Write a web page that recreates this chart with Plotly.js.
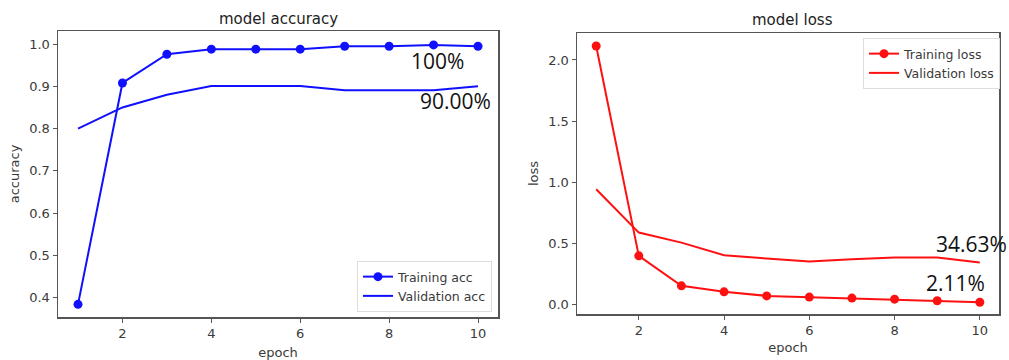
<!DOCTYPE html>
<html>
<head>
<meta charset="utf-8">
<script src="https://cdn.plot.ly/plotly-3.0.1.min.js"></script>
<style>html,body{margin:0;padding:0;background:#fff;}#chart{width:1009px;height:360px;}</style>
</head>
<body>
<div id="chart"></div>
<script>
const epochs = [1, 2, 3, 4, 5, 6, 7, 8, 9, 10];
const trainAcc = [0.384, 0.908, 0.976, 0.988, 0.988, 0.988, 0.995, 0.995, 0.998, 0.995];
const valAcc = [0.800, 0.850, 0.880, 0.901, 0.901, 0.901, 0.891, 0.891, 0.891, 0.900];
const trainLoss = [2.114, 0.400, 0.155, 0.106, 0.073, 0.063, 0.055, 0.046, 0.033, 0.0211];
const valLoss = [0.944, 0.590, 0.508, 0.405, 0.378, 0.353, 0.372, 0.386, 0.386, 0.3463];
const accLabels = ["100%", "90.00%"];
const lossLabels = ["34.63%", "2.11%"];

const W = 1009, H = 360;
const px = x => x / W;
const py = y => 1 - y / H;

const blue = "#1010ff", red = "#ff1010";
const txtColor = "#3a3a3a";
const tickFont = {family: "DejaVu Sans", size: 13, color: txtColor};
const labFont = {family: "DejaVu Sans", size: 13, color: txtColor};

const traces = [
  {x: epochs, y: trainAcc, name: "Training acc", mode: "lines+markers",
   line: {color: blue, width: 2}, marker: {color: blue, size: 9},
   xaxis: "x", yaxis: "y", legend: "legend"},
  {x: epochs, y: valAcc, name: "Validation acc", mode: "lines",
   line: {color: blue, width: 2}, xaxis: "x", yaxis: "y", legend: "legend"},
  {x: epochs, y: trainLoss, name: "Training loss", mode: "lines+markers",
   line: {color: red, width: 2}, marker: {color: red, size: 9},
   xaxis: "x2", yaxis: "y2", legend: "legend2"},
  {x: epochs, y: valLoss, name: "Validation loss", mode: "lines",
   line: {color: red, width: 2}, xaxis: "x2", yaxis: "y2", legend: "legend2"}
];

const axisCommon = {
  showgrid: false, zeroline: false, showline: true, mirror: true,
  linecolor: "#555", linewidth: 1.5, ticks: "outside", ticklen: 4,
  tickcolor: "#555", tickfont: tickFont
};

const annFont = {family: "Open Sans", size: 21, color: "#111"};
const ann = (text, x, y, font) => ({text: text, xref: "paper", yref: "paper", x: px(x), y: py(y),
  xanchor: "center", yanchor: "middle", showarrow: false, font: font});

const layout = {
  width: W, height: H,
  margin: {l: 0, r: 0, t: 0, b: 0},
  paper_bgcolor: "#fff", plot_bgcolor: "#fff",
  showlegend: true,
  xaxis: Object.assign({}, axisCommon, {
    domain: [px(58), px(498)], range: [0.55, 10.45], tickvals: [2, 4, 6, 8, 10],
    anchor: "y", title: {text: "epoch", font: labFont, standoff: 8}
  }),
  yaxis: Object.assign({}, axisCommon, {
    domain: [py(317), py(31)], range: [0.354, 1.031], tickvals: [0.4, 0.5, 0.6, 0.7, 0.8, 0.9, 1.0],
    ticktext: ["0.4", "0.5", "0.6", "0.7", "0.8", "0.9", "1.0"],
    anchor: "x", title: {text: "accuracy", font: labFont, standoff: 6}
  }),
  xaxis2: Object.assign({}, axisCommon, {
    domain: [px(577), px(999)], range: [0.55, 10.45], tickvals: [2, 4, 6, 8, 10],
    anchor: "y2", title: {text: "epoch", font: labFont, standoff: 6}
  }),
  yaxis2: Object.assign({}, axisCommon, {
    domain: [py(314), py(33)], range: [-0.075, 2.22], tickvals: [0, 0.5, 1.0, 1.5, 2.0],
    ticktext: ["0.0", "0.5", "1.0", "1.5", "2.0"],
    anchor: "x2", title: {text: "loss", font: labFont, standoff: 6}
  }),
  legend: {
    x: px(492), y: py(312), xanchor: "right", yanchor: "bottom",
    bgcolor: "#fff", bordercolor: "#ddd", borderwidth: 1, itemwidth: 30,
    font: {family: "DejaVu Sans", size: 12.5, color: txtColor}, tracegroupgap: 0
  },
  legend2: {
    x: px(1000), y: py(38), xanchor: "right", yanchor: "top",
    bgcolor: "#fff", bordercolor: "#ddd", borderwidth: 1, itemwidth: 30,
    font: {family: "DejaVu Sans", size: 12.5, color: txtColor}, tracegroupgap: 0
  },
  annotations: [
    ann("model accuracy", 278, 19, {family: "DejaVu Sans", size: 15, color: "#222"}),
    ann("model loss", 792, 20, {family: "DejaVu Sans", size: 15, color: "#222"}),
    ann(accLabels[0], 437, 61, annFont),
    ann(accLabels[1], 455, 101, annFont),
    ann(lossLabels[0], 971, 244, annFont),
    ann(lossLabels[1], 955, 283, annFont)
  ]
};

Plotly.newPlot("chart", traces, layout, {displayModeBar: false, staticPlot: true});
</script>
</body>
</html>
